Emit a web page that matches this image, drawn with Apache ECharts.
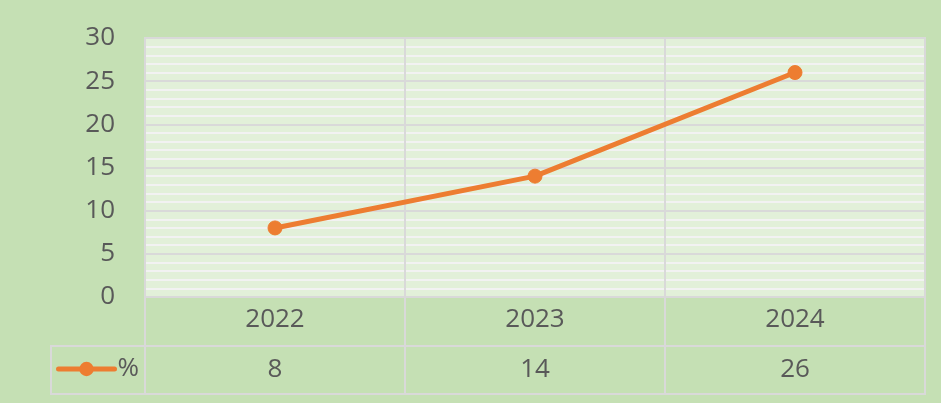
<!DOCTYPE html>
<html>
<head>
<meta charset="utf-8">
<script src="https://cdn.jsdelivr.net/npm/echarts@6/dist/echarts.min.js"></script>
<style>
  html, body { margin: 0; padding: 0; background: #C5E0B4; }
  #chart { width: 941px; height: 403px; }
</style>
</head>
<body>
<div id="chart"></div>
<script>
const categories = ['2022', '2023', '2024'];
const seriesName = '%';
const values = [8, 14, 26];
const yMin = 0, yMax = 30, yInterval = 5;

const FONT = 'Open Sans';
const TXT = '#595959';
const GRIDC = '#D9D9D9';
const ORANGE = '#ED7D31';

const chart = echarts.init(document.getElementById('chart'), null, { renderer: 'canvas' });

const tableData = values.map((v, i) => [categories[i], 'val', v]);

chart.setOption({
  animation: false,
  backgroundColor: '#C5E0B4',
  textStyle: { fontFamily: FONT },
  legend: {
    data: [seriesName],
    left: 56, top: 356,
    padding: 0,
    itemWidth: 56, itemHeight: 18,
    itemGap: 0,
    lineStyle: { width: 5, color: ORANGE, cap: 'round' },
    itemStyle: { color: ORANGE },
    textStyle: { fontFamily: FONT, fontSize: 26, color: TXT, padding: [0, 0, 0, -2] },
    selectedMode: false
  },
  grid: [
    { left: 145, top: 38, width: 780, height: 259, show: true, backgroundColor: '#E2F0D9', borderColor: GRIDC, borderWidth: 2, containLabel: false },
    { left: 145, top: 297, width: 780, height: 97, show: true, backgroundColor: 'transparent', borderColor: GRIDC, borderWidth: 2, containLabel: false },
    { left: 51, top: 346, width: 94, height: 48, show: true, backgroundColor: 'transparent', borderColor: GRIDC, borderWidth: 2, containLabel: false }
  ],
  xAxis: [
    { gridIndex: 0, type: 'category', data: categories, boundaryGap: true,
      axisLine: { show: true, lineStyle: { color: GRIDC, width: 2 } },
      axisTick: { show: false },
      axisLabel: { fontFamily: FONT, fontSize: 26, color: TXT, margin: 10 },
      splitLine: { show: true, lineStyle: { color: GRIDC, width: 2 } } },
    { gridIndex: 1, type: 'category', data: categories, boundaryGap: true,
      axisLine: { show: false }, axisTick: { show: false }, axisLabel: { show: false },
      splitLine: { show: true, lineStyle: { color: GRIDC, width: 2 } } },
    { gridIndex: 2, type: 'value', show: false, min: 0, max: 1 }
  ],
  yAxis: [
    { gridIndex: 0, type: 'value', min: yMin, max: yMax, interval: yInterval,
      axisLine: { show: false }, axisTick: { show: false },
      axisLabel: { fontFamily: FONT, fontSize: 26, color: TXT, margin: 30 },
      splitLine: { show: true, lineStyle: { color: GRIDC, width: 2 } },
      minorTick: { show: false, splitNumber: 5 },
      minorSplitLine: { show: true, lineStyle: { color: '#F2F2F2', width: 2 } } },
    { gridIndex: 1, type: 'category', data: ['val', 'year'], boundaryGap: true,
      axisLine: { show: false }, axisTick: { show: false }, axisLabel: { show: false },
      splitLine: { show: true, lineStyle: { color: GRIDC, width: 2 } } },
    { gridIndex: 2, type: 'value', show: false, min: 0, max: 1 }
  ],
  series: [
    {
      name: seriesName, type: 'line', xAxisIndex: 0, yAxisIndex: 0,
      data: values,
      symbol: 'circle', symbolSize: 14, showSymbol: true,
      lineStyle: { color: ORANGE, width: 5, cap: 'round' },
      itemStyle: { color: ORANGE, borderColor: ORANGE },
      z: 5
    },
    {
      name: 'table', type: 'scatter', xAxisIndex: 1, yAxisIndex: 1,
      data: tableData,
      symbol: 'circle', symbolSize: 1,
      itemStyle: { color: 'rgba(0,0,0,0)' },
      label: { show: true, position: 'inside', fontFamily: FONT, fontSize: 26, color: TXT,
        textBorderWidth: 0, textBorderColor: 'transparent', opacity: 1,
        formatter: p => String(p.value[2]) },
      silent: true
    }
  ]
});
</script>
</body>
</html>
